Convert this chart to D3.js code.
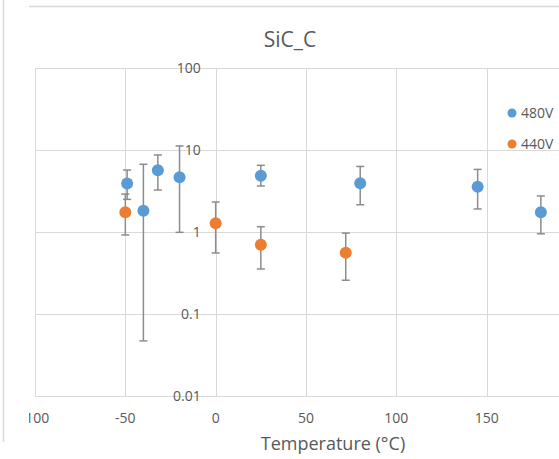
<!DOCTYPE html>
<html>
<head>
<meta charset="utf-8">
<script src="https://cdn.jsdelivr.net/npm/d3@7"></script>
<style>
  body { margin: 0; background: #fff; }
  svg { display: block; font-family: "Open Sans", "Noto Sans", sans-serif; }
</style>
</head>
<body>
<div id="chart"></div>
<script>
// series
const seriesNames = ["480V", "440V"];
const temps480 = [-49, -40, -32, -20, 25, 80, 145, 180];
const values480 = [3.9, 1.82, 5.65, 4.65, 4.86, 3.93, 3.57, 1.74];
const high480 = [5.7, 6.7, 8.7, 11.2, 6.5, 6.3, 5.8, 2.75];
const low480 = [2.5, 0.047, 3.25, 0.99, 3.64, 2.15, 1.91, 0.95];

const temps440 = [-50, 0, 25, 72];
const values440 = [1.74, 1.28, 0.70, 0.56];
const high440 = [2.9, 2.32, 1.16, 0.97];
const low440 = [0.92, 0.555, 0.354, 0.258];

const xTicks = [-100, -50, 0, 50, 100, 150, 200];
const xLabels = [-100, -50, 0, 50, 100, 150]; // 200 falls past the crop
const yTicks = [0.01, 0.1, 1, 10, 100];

const colors = ["#5b9bd5", "#ed7d31"];

const W = 559, H = 459;
const svg = d3.select("#chart").append("svg")
    .attr("width", W)
    .attr("height", H);

// crop edges of the original chart frame
svg.append("line").attr("x1", 3.5).attr("x2", 3.5).attr("y1", 0).attr("y2", 442)
    .attr("stroke", "#d9d9d9").attr("stroke-width", 1.5);
svg.append("line").attr("x1", 29).attr("x2", W).attr("y1", 6.5).attr("y2", 6.5)
    .attr("stroke", "#d9d9d9").attr("stroke-width", 1.5);

svg.append("defs").append("clipPath").attr("id", "frame")
    .append("rect").attr("x", 29).attr("y", 8).attr("width", W - 29).attr("height", H - 8);

const g = svg.append("g").attr("clip-path", "url(#frame)");

const x = d3.scaleLinear().domain([-100, 200]).range([35, 577]);
const y = d3.scaleLog().domain([0.01, 100]).range([396, 68]);

// gridlines
g.append("g").selectAll("line").data(yTicks).join("line")
    .attr("x1", x(-100)).attr("x2", x(200))
    .attr("y1", d => Math.round(y(d)) + 0.5).attr("y2", d => Math.round(y(d)) + 0.5)
    .attr("stroke", "#d9d9d9").attr("stroke-width", 1);
g.append("g").selectAll("line").data(xTicks).join("line")
    .attr("x1", d => Math.round(x(d)) + 0.5).attr("x2", d => Math.round(x(d)) + 0.5)
    .attr("y1", y(100)).attr("y2", y(0.01))
    .attr("stroke", "#d9d9d9").attr("stroke-width", 1);

// y labels sit along the x=0 line
g.append("g").selectAll("text").data(yTicks).join("text")
    .attr("x", x(0) - 15)
    .attr("y", d => y(d))
    .attr("dy", "0.35em")
    .attr("text-anchor", "end")
    .attr("font-size", 14)
    .attr("fill", "#595959")
    .text(d => d3.format("~g")(d));

g.append("g").selectAll("text").data(xLabels).join("text")
    .attr("x", d => x(d))
    .attr("y", 418)
    .attr("dy", "0.35em")
    .attr("text-anchor", "middle")
    .attr("font-size", 14)
    .attr("fill", "#595959")
    .text(d => d);

// title + axis title
svg.append("text").attr("x", 290).attr("y", 40).attr("dy", "0.35em")
    .attr("text-anchor", "middle").attr("font-size", 21).attr("fill", "#595959")
    .text("SiC_C");
svg.append("text").attr("x", 333).attr("y", 444).attr("dy", "0.35em")
    .attr("text-anchor", "middle").attr("font-size", 18).attr("fill", "#595959")
    .text("Temperature (°C)");

function buildSeries(temps, vals, hi, lo) {
    return temps.map((t, i) => ({ t: t, v: vals[i], hi: hi[i], lo: lo[i] }));
}
const allSeries = [
    buildSeries(temps480, values480, high480, low480),
    buildSeries(temps440, values440, high440, low440)
];

allSeries.forEach((data, si) => {
    const s = g.append("g");
    const eb = s.selectAll("g.err").data(data).join("g").attr("class", "err")
        .attr("stroke", "#8c8c8c").attr("stroke-width", 1.5);
    eb.append("line")
        .attr("x1", d => x(d.t)).attr("x2", d => x(d.t))
        .attr("y1", d => y(d.hi)).attr("y2", d => y(d.lo));
    eb.append("line")
        .attr("x1", d => x(d.t) - 4).attr("x2", d => x(d.t) + 4)
        .attr("y1", d => y(d.hi)).attr("y2", d => y(d.hi));
    eb.append("line")
        .attr("x1", d => x(d.t) - 4).attr("x2", d => x(d.t) + 4)
        .attr("y1", d => y(d.lo)).attr("y2", d => y(d.lo));
    s.selectAll("circle").data(data).join("circle")
        .attr("cx", d => x(d.t)).attr("cy", d => y(d.v))
        .attr("r", 6)
        .attr("fill", colors[si]);
});

// legend
const legend = svg.append("g").selectAll("g").data(seriesNames).join("g")
    .attr("transform", (d, i) => `translate(512,${113 + i * 31})`);
legend.append("circle").attr("r", 4.5).attr("fill", (d, i) => colors[i]);
legend.append("text").attr("x", 9).attr("dy", "0.35em")
    .attr("font-size", 14).attr("fill", "#595959").text(d => d);
</script>
</body>
</html>
